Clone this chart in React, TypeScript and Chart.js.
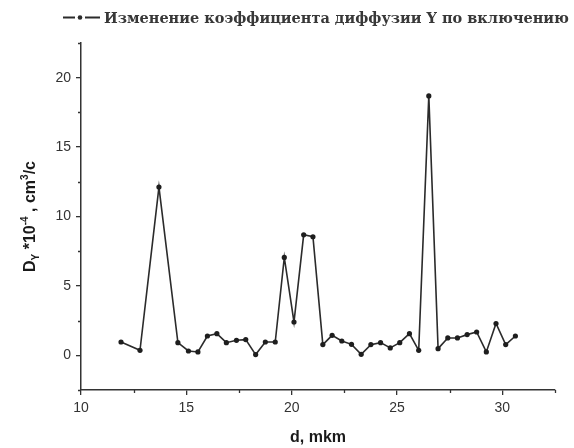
import React, { useEffect, useRef } from "react";
import { Chart, registerables } from "chart.js";

Chart.register(...registerables);

// Depth of the measurement, mkm
const depth = [
  11.9, 12.8, 13.7, 14.6, 15.1, 15.55, 16.0, 16.45, 16.9, 17.38, 17.82, 18.29,
  18.75, 19.22, 19.65, 20.11, 20.57, 21.01, 21.48, 21.92, 22.38, 22.84, 23.3,
  23.76, 24.22, 24.68, 25.13, 25.59, 26.03, 26.51, 26.95, 27.41, 27.87, 28.33,
  28.78, 29.24, 29.7, 30.16, 30.62,
];

// Diffusion coefficient D_Y, x10^-4 cm^3/c
const diffusion = [
  0.96, 0.36, 12.12, 0.91, 0.31, 0.24, 1.39, 1.56, 0.91, 1.08, 1.13, 0.05,
  0.96, 0.96, 7.05, 2.4, 8.68, 8.54, 0.77, 1.44, 1.03, 0.79, 0.07, 0.77, 0.91,
  0.53, 0.91, 1.56, 0.36, 18.69, 0.48, 1.25, 1.25, 1.49, 1.68, 0.24, 2.29,
  0.77, 1.39,
];

const xMajorTicks = [10, 15, 20, 25, 30];
const xMinorTicks = [12.5, 17.5, 22.5, 27.5, 32.5];
const yMajorTicks = [0, 5, 10, 15, 20];
const yMinorTicks = [-2.5, 2.5, 7.5, 12.5, 17.5, 22.5];

const seriesLabel = "Изменение коэффициента диффузии Y по включению";
const xTitle = "d, mkm";
// y title pieces: [text, kind] where kind is normal / sub / sup
const yTitleParts: [string, "n" | "sub" | "sup"][] = [
  ["D", "n"],
  ["Y", "sub"],
  [" *10", "n"],
  ["-4", "sup"],
  [" , cm", "n"],
  ["3", "sup"],
  ["/c", "n"],
];

const INK = "#2b2b2b";
const AXIS = "#333333";

const decorPlugin = {
  id: "decor",
  afterDraw(chart: any) {
    const ctx: CanvasRenderingContext2D = chart.ctx;
    const xs = chart.scales.x;
    const ys = chart.scales.y;
    const area = chart.chartArea;
    ctx.save();

    // minor ticks
    ctx.strokeStyle = AXIS;
    ctx.lineWidth = 1.3;
    ctx.beginPath();
    for (const v of xMinorTicks) {
      const px = Math.round(xs.getPixelForValue(v)) + 0.5;
      ctx.moveTo(px, area.bottom);
      ctx.lineTo(px, area.bottom + 3);
    }
    for (const v of yMinorTicks) {
      const py = Math.round(ys.getPixelForValue(v)) + 0.5;
      ctx.moveTo(area.left, py);
      ctx.lineTo(area.left - 3, py);
    }
    ctx.stroke();

    // legend: line-dot-line sample and the series name
    const ly = 17.5;
    ctx.strokeStyle = INK;
    ctx.lineWidth = 2;
    ctx.beginPath();
    ctx.moveTo(63, ly);
    ctx.lineTo(75, ly);
    ctx.moveTo(85, ly);
    ctx.lineTo(100, ly);
    ctx.stroke();
    ctx.fillStyle = INK;
    ctx.beginPath();
    ctx.arc(80, ly, 2.3, 0, Math.PI * 2);
    ctx.fill();
    ctx.fillStyle = "#383838";
    ctx.textAlign = "left";
    ctx.textBaseline = "alphabetic";
    const legendX = 104;
    const legendWidth = 465;
    ctx.font = "bold 15px 'DejaVu Serif'";
    const w15 = ctx.measureText(seriesLabel).width;
    const size = Math.min(15, (15 * legendWidth) / w15);
    ctx.font = `bold ${size.toFixed(2)}px 'DejaVu Serif'`;
    ctx.fillText(seriesLabel, legendX, 23);

    // x title
    ctx.fillStyle = "#1a1a1a";
    ctx.font = "bold 16px 'Liberation Sans', Arial";
    ctx.textAlign = "center";
    ctx.fillText(xTitle, (area.left + area.right) / 2, 441.5);

    // y title with sub/superscripts, rotated
    const big = "bold 16px 'Liberation Sans', Arial";
    const small = "bold 10px 'Liberation Sans', Arial";
    let total = 0;
    for (const [t, k] of yTitleParts) {
      ctx.font = k === "n" ? big : small;
      total += ctx.measureText(t).width;
    }
    ctx.translate(35, (area.top + area.bottom) / 2);
    ctx.rotate(-Math.PI / 2);
    ctx.textAlign = "left";
    let cx = -total / 2;
    for (const [t, k] of yTitleParts) {
      ctx.font = k === "n" ? big : small;
      const dy = k === "sub" ? 4 : k === "sup" ? -7 : 0;
      ctx.fillText(t, cx, dy);
      cx += ctx.measureText(t).width;
    }
    ctx.restore();
  },
};

export default function App() {
  const ref = useRef<HTMLCanvasElement | null>(null);

  useEffect(() => {
    if (!ref.current) return;
    const chart = new Chart(ref.current, {
      type: "line",
      data: {
        datasets: [
          {
            label: seriesLabel,
            data: depth.map((d, i) => ({ x: d, y: diffusion[i] })),
            borderColor: INK,
            borderWidth: 1.6,
            pointRadius: 2.6,
            pointBackgroundColor: "#1e1e1e",
            pointBorderWidth: 0,
            tension: 0,
          },
        ],
      },
      options: {
        responsive: false,
        animation: false,
        layout: { padding: { top: 43, right: 19, left: 0, bottom: 0 } },
        plugins: {
          legend: { display: false },
          tooltip: { enabled: false },
        },
        scales: {
          x: {
            type: "linear",
            min: 10,
            max: 32.5,
            afterBuildTicks: (s: any) => {
              s.ticks = xMajorTicks.map((v) => ({ value: v }));
            },
            afterFit: (s: any) => {
              s.height = 58;
            },
            grid: {
              drawOnChartArea: false,
              drawTicks: true,
              tickLength: 5,
              color: AXIS,
              lineWidth: 1.3,
            },
            border: { display: true, color: AXIS, width: 1.5 },
            ticks: {
              padding: 5,
              color: "#333",
              font: { family: "'Liberation Sans', Arial", size: 14 },
              maxRotation: 0,
            },
          },
          y: {
            type: "linear",
            min: -2.5,
            max: 22.5,
            afterBuildTicks: (s: any) => {
              s.ticks = yMajorTicks.map((v) => ({ value: v }));
            },
            afterFit: (s: any) => {
              s.width = 81;
            },
            grid: {
              drawOnChartArea: false,
              drawTicks: true,
              tickLength: 5,
              color: AXIS,
              lineWidth: 1.3,
            },
            border: { display: true, color: AXIS, width: 1.5 },
            ticks: {
              padding: 5,
              color: "#333",
              font: { family: "'Liberation Sans', Arial", size: 14 },
            },
          },
        },
      },
      plugins: [decorPlugin],
    });
    return () => chart.destroy();
  }, []);

  return (
    <div
      style={{
        position: "absolute",
        left: 0,
        top: 0,
        width: 574,
        height: 448,
        background: "#fff",
      }}
    >
      <canvas ref={ref} width={574} height={448} />
    </div>
  );
}
